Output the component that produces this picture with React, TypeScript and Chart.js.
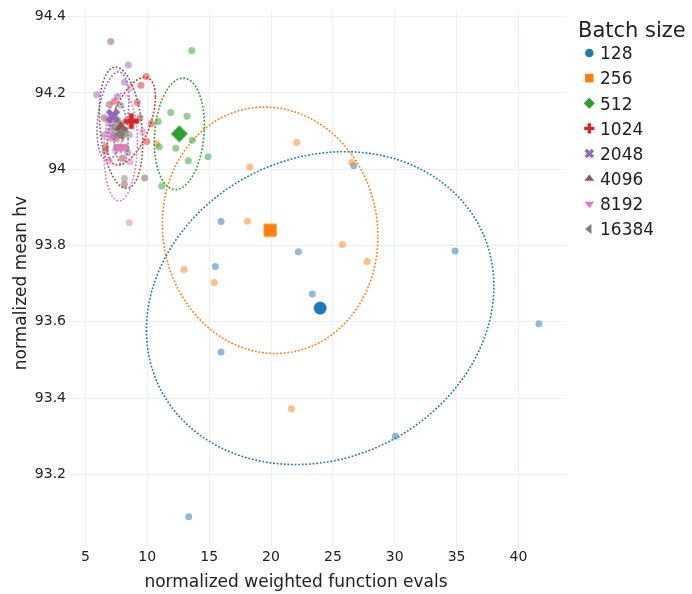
import React, { useEffect, useRef } from "react";
import { Chart, registerables } from "chart.js";

Chart.register(...registerables);

const batchSizes = ["128", "256", "512", "1024", "2048", "4096", "8192", "16384"];
const colors = ["#1f77b4", "#ff7f0e", "#2ca02c", "#d62728", "#9467bd", "#8c564b", "#e377c2", "#7f7f7f"];
const markerShapes = ["circle", "square", "diamond", "cross", "x", "triangle-up", "triangle-down", "triangle-left"];

// individual runs: x = normalized weighted function evals, y = normalized mean hv
const evals128 = [15.96, 15.5, 22.21, 23.34, 26.69, 15.96, 41.65, 30.05, 13.35, 34.87];
const hv128 = [93.863, 93.745, 93.784, 93.673, 94.009, 93.521, 93.595, 93.3, 93.089, 93.786];
const evals256 = [22.08, 18.28, 18.09, 25.77, 27.77, 12.97, 15.4, 26.53, 10.76, 21.65];
const hv256 = [94.07, 94.006, 93.864, 93.803, 93.758, 93.737, 93.703, 94.018, 94.067, 93.372];
const evals512 = [13.59, 11.9, 13.21, 10.89, 13.64, 10.97, 12.3, 14.91, 13.32, 11.17];
const hv512 = [94.311, 94.149, 94.139, 94.125, 94.076, 94.059, 94.055, 94.033, 94.022, 93.956];
const evals1024 = [9.92, 9.49, 9.2, 7.34, 10.33, 9.96, 6.64, 7.98, 7.5, 8.3];
const hv1024 = [94.243, 94.22, 94.175, 94.178, 94.12, 94.073, 94.058, 94.029, 94.08, 94.055];
const evals2048 = [8.47, 5.91, 8.15, 7.58, 6.53, 8.42, 7.2, 7.0, 6.9, 7.2];
const hv2048 = [94.273, 94.195, 94.228, 94.191, 94.09, 94.043, 94.084, 94.119, 94.1, 94.087];
const evals4096 = [7.05, 9.79, 8.15, 6.93, 6.53, 9.41, 6.6, 7.6, 8.1, 7.85];
const hv4096 = [94.335, 93.977, 93.96, 94.17, 94.135, 94.135, 94.047, 94.12, 94.09, 94.1];
const evals8192 = [8.55, 9.63, 8.61, 8.61, 7.39, 6.91, 6.7, 7.0, 7.3, 7.3];
const hv8192 = [93.86, 94.099, 94.019, 94.212, 94.05, 94.021, 94.13, 94.08, 94.11, 94.09];
const evals16384 = [8.15, 7.85, 8.55, 7.53, 7.4, 7.9, 8.1, 7.6, 7.3, 7.6];
const hv16384 = [93.976, 94.168, 94.09, 94.058, 94.13, 94.12, 94.1, 94.09, 94.11, 94.13];

const evalsLists = [evals128, evals256, evals512, evals1024, evals2048, evals4096, evals8192, evals16384];
const hvLists = [hv128, hv256, hv512, hv1024, hv2048, hv4096, hv8192, hv16384];

// group means
const meanEvals = [23.97, 19.93, 12.59, 8.71, 7.23, 7.88, 7.85, 7.85];
const meanHv = [93.636, 93.84, 94.093, 94.126, 94.14, 94.109, 94.058, 94.093];

// confidence ellipses (half-extent in x, half-extent in y, tilt correlation)
const ellipseEvalRadius = [14.04, 8.71, 2.02, 1.95, 1.29, 1.75, 1.35, 0.6];
const ellipseHvRadius = [0.41, 0.323, 0.146, 0.115, 0.115, 0.159, 0.141, 0.08];
const ellipseTilt = [0.14, -0.05, 0.15, 0.55, 0.35, -0.25, 0.1, -0.2];

const xTicks = [5, 10, 15, 20, 25, 30, 35, 40];
const yTicks = [93.2, 93.4, 93.6, 93.8, 94, 94.2, 94.4];

const xTitle = "normalized weighted function evals";
const yTitle = "normalized mean hv";
const legendTitle = "Batch size";

const FONT = "'DejaVu Sans', Verdana, sans-serif";
const TEXT = "#222222";
const GRID = "#ebf0f8";

function rgba(hex: string, a: number) {
  const n = parseInt(hex.slice(1), 16);
  return `rgba(${(n >> 16) & 255},${(n >> 8) & 255},${n & 255},${a})`;
}

function shapePath(ctx: CanvasRenderingContext2D, shape: string, cx: number, cy: number, size: number) {
  const r = size / 2;
  ctx.beginPath();
  const poly = (pts: number[][]) => {
    pts.forEach(([px, py], k) => (k ? ctx.lineTo(cx + px, cy + py) : ctx.moveTo(cx + px, cy + py)));
    ctx.closePath();
  };
  const t = (r * 2) / Math.sqrt(3);
  switch (shape) {
    case "circle":
      ctx.arc(cx, cy, r, 0, Math.PI * 2);
      break;
    case "square":
      poly([[-r, -r], [r, -r], [r, r], [-r, r]]);
      break;
    case "diamond": {
      const d = r * 1.3;
      poly([[0, -d], [d, 0], [0, d], [-d, 0]]);
      break;
    }
    case "cross": {
      const a = r * 1.2, b = r * 0.4;
      poly([[a, b], [b, b], [b, a], [-b, a], [-b, b], [-a, b], [-a, -b], [-b, -b], [-b, -a], [b, -a], [b, -b], [a, -b]]);
      break;
    }
    case "x": {
      const q = (r * 0.8) / Math.SQRT2;
      poly([[0, q], [q, 2 * q], [2 * q, q], [q, 0], [2 * q, -q], [q, -2 * q], [0, -q], [-q, -2 * q], [-2 * q, -q], [-q, 0], [-2 * q, q], [-q, 2 * q]]);
      break;
    }
    case "triangle-up":
      poly([[-t, r / 2], [t, r / 2], [0, -r]]);
      break;
    case "triangle-down":
      poly([[-t, -r / 2], [t, -r / 2], [0, r]]);
      break;
    case "triangle-left":
      poly([[r / 2, -t], [r / 2, t], [-r, 0]]);
      break;
  }
}

function markerImage(shape: string, color: string, size: number) {
  const c = document.createElement("canvas");
  const dim = Math.ceil(size * 1.5) + 4;
  c.width = dim;
  c.height = dim;
  const ctx = c.getContext("2d")!;
  ctx.fillStyle = color;
  shapePath(ctx, shape, dim / 2, dim / 2, size);
  ctx.fill();
  return c;
}

const ellipsePlugin = {
  id: "ellipses",
  afterDatasetDraw(chart: any, args: any) {
    const i = args.index;
    if (i >= batchSizes.length) return;
    const xs = chart.scales.x;
    const ys = chart.scales.y;
    const ctx: CanvasRenderingContext2D = chart.ctx;
    const area = chart.chartArea;
    const rho = ellipseTilt[i];
    const s = Math.sqrt(1 - rho * rho);
    ctx.save();
    ctx.beginPath();
    ctx.rect(area.left, area.top, area.right - area.left, area.bottom - area.top);
    ctx.clip();
    ctx.beginPath();
    const n = 360;
    for (let k = 0; k <= n; k++) {
      const th = (2 * Math.PI * k) / n;
      const vx = meanEvals[i] + ellipseEvalRadius[i] * Math.cos(th);
      const vy = meanHv[i] + ellipseHvRadius[i] * (rho * Math.cos(th) + s * Math.sin(th));
      const px = xs.getPixelForValue(vx);
      const py = ys.getPixelForValue(vy);
      if (k === 0) ctx.moveTo(px, py);
      else ctx.lineTo(px, py);
    }
    ctx.closePath();
    ctx.setLineDash([1.8, 1.8]);
    ctx.lineWidth = 1.6;
    ctx.strokeStyle = colors[i];
    ctx.stroke();
    ctx.restore();
  },
};

const textPlugin = {
  id: "texts",
  afterDraw(chart: any) {
    const ctx: CanvasRenderingContext2D = chart.ctx;
    ctx.save();
    ctx.fillStyle = TEXT;
    // x axis title
    ctx.font = `17px ${FONT}`;
    ctx.textAlign = "center";
    ctx.textBaseline = "alphabetic";
    ctx.fillText(xTitle, 296, 587);
    // y axis title
    ctx.save();
    ctx.translate(26, 283);
    ctx.rotate(-Math.PI / 2);
    ctx.fillText(yTitle, 0, 0);
    ctx.restore();
    // legend
    ctx.textAlign = "left";
    ctx.font = `21px ${FONT}`;
    ctx.fillText(legendTitle, 578, 36.7);
    ctx.font = `17px ${FONT}`;
    batchSizes.forEach((b, i) => {
      const cy = 53 + 25.14 * i;
      ctx.fillStyle = colors[i];
      shapePath(ctx, markerShapes[i], 589.3, cy, 8.5);
      ctx.fill();
      ctx.fillStyle = TEXT;
      ctx.fillText(b, 600, cy + 6.3);
    });
    ctx.restore();
  },
};

export default function App() {
  const ref = useRef<HTMLCanvasElement>(null);
  useEffect(() => {
    if (!ref.current) return;
    Chart.defaults.font.family = FONT;
    const runDatasets = batchSizes.map((b, i) => ({
      label: `${b} runs`,
      data: evalsLists[i].map((x, j) => ({ x, y: hvLists[i][j] })),
      pointRadius: 3.5,
      pointHoverRadius: 3.5,
      pointBackgroundColor: rgba(colors[i], 0.5),
      pointBorderWidth: 0,
      borderWidth: 0,
      order: 100 - i,
    }));
    const meanDatasets = batchSizes.map((b, i) => ({
      label: b,
      data: [{ x: meanEvals[i], y: meanHv[i] }],
      pointStyle: markerImage(markerShapes[i], colors[i], 13),
      pointRadius: 7,
      pointHoverRadius: 7,
      pointBackgroundColor: colors[i],
      pointBorderWidth: 0,
      borderWidth: 0,
      order: 50 - i,
    }));
    const chart = new Chart(ref.current, {
      type: "scatter",
      data: { datasets: [...runDatasets, ...meanDatasets] as any },
      options: {
        animation: false,
        responsive: false,
        devicePixelRatio: 1,
        layout: { autoPadding: false, padding: { left: 0, right: 125, top: 7, bottom: 0 } } as any,
        plugins: { legend: { display: false }, tooltip: { enabled: false } },
        scales: {
          x: {
            type: "linear",
            min: 3.594,
            max: 43.92,
            afterBuildTicks: (s: any) => {
              s.ticks = xTicks.map((v) => ({ value: v }));
            },
            afterFit: (s: any) => {
              s.height = 47;
            },
            grid: { color: GRID, lineWidth: 1, drawTicks: false },
            border: { display: false },
            ticks: {
              color: TEXT,
              font: { size: 14, family: FONT },
              padding: 2,
              maxRotation: 0,
              autoSkip: false,
              callback: (v: any) => String(v),
            },
          },
          y: {
            type: "linear",
            min: 93.0098,
            max: 94.4164,
            afterBuildTicks: (s: any) => {
              s.ticks = yTicks.map((v) => ({ value: v }));
            },
            afterFit: (s: any) => {
              s.width = 68;
            },
            grid: { color: GRID, lineWidth: 1, drawTicks: false },
            border: { display: false },
            ticks: {
              color: TEXT,
              font: { size: 14, family: FONT },
              padding: 2,
              autoSkip: false,
              callback: (v: any) => String(Math.round(Number(v) * 10) / 10),
            },
          },
        },
      },
      plugins: [ellipsePlugin, textPlugin],
    } as any);
    return () => chart.destroy();
  }, []);
  return (
    <div style={{ position: "fixed", left: 0, top: 0, width: 692, height: 594, background: "#fff" }}>
      <canvas ref={ref} width={692} height={594} style={{ display: "block" }} />
    </div>
  );
}
